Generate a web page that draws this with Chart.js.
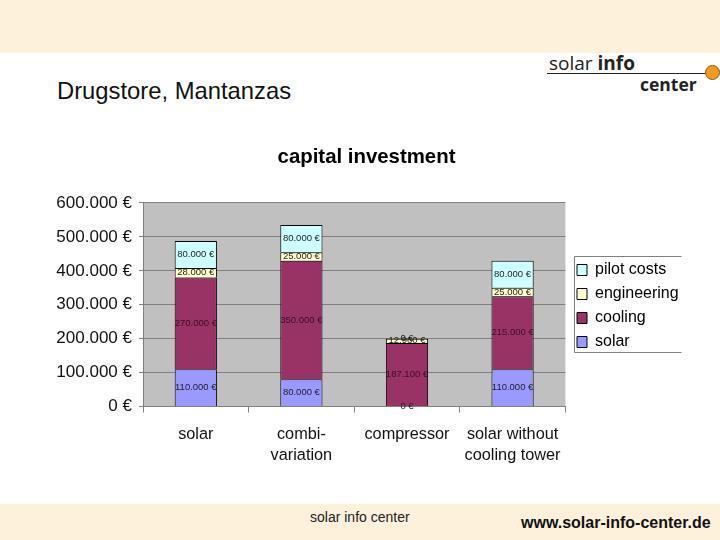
<!DOCTYPE html>
<html><head><meta charset="utf-8">
<script src="https://cdn.jsdelivr.net/npm/chart.js@4"></script>
<style>
html,body{margin:0;padding:0;background:#fff;width:720px;height:540px;overflow:hidden;font-family:"Liberation Sans",Arial,sans-serif}
.band{position:absolute;left:0;width:720px;background:#fdf1dc}
.t{position:absolute;white-space:nowrap;color:#000;line-height:1}
canvas{position:absolute;left:0;top:0}
</style></head><body>
<div class="band" style="top:0;height:53px"></div>
<div class="band" style="top:504px;height:36px"></div>
<div class="t" style="left:57px;top:79px;font-size:23.8px;color:#111">Drugstore, Mantanzas</div>
<div class="t" style="left:549px;top:50px;font:19px 'Open Sans',sans-serif;color:#222">solar <b>info</b></div>
<div style="position:absolute;left:547px;top:73px;width:160px;height:1px;background:#222"></div>
<div class="t" style="left:640px;top:72px;font:bold 17.5px 'Open Sans',sans-serif;color:#222">center</div>
<div style="position:absolute;left:705px;top:65px;width:13px;height:13px;border-radius:50%;background:#f39a1f;border:1px solid #8a5a10"></div>
<div class="t" style="left:310px;top:510px;font-size:14px;color:#222">solar info center</div>
<div class="t" style="left:521px;top:515px;font-size:16px;font-weight:bold;color:#111">www.solar-info-center.de</div>
<canvas id="c" width="720" height="540"></canvas>
<script>
const categories=["solar",["combi-","variation"],"compressor",["solar without","cooling tower"]];
const solar=[110000,80000,0,110000];
const cooling=[270000,350000,187100,215000];
const engineering=[28000,25000,12960,25000];
const pilotCosts=[80000,80000,0,80000];
const yTicks=[0,100000,200000,300000,400000,500000,600000];
const euro=v=>String(v).replace(/\B(?=(\d{3})+$)/g,".")+" €";
const frame={
  id:"frame",
  afterLayout(c){const l=c.legend;l.left=569;l.right=689;l.width=120;l.top=246;l.bottom=366;l.height=120;},
  beforeDraw(c){const a=c.chartArea,x=c.ctx;x.save();x.fillStyle="#c0c0c0";x.fillRect(a.left,a.top,a.width,a.height);
    x.strokeStyle="#808080";x.lineWidth=1;x.beginPath();x.moveTo(681.5,256.5);x.lineTo(574.5,256.5);x.lineTo(574.5,352.5);x.lineTo(681.5,352.5);x.stroke();x.restore();},
  afterDatasetsDraw(c){const x=c.ctx;x.save();x.font="9.5px 'Liberation Sans'";x.textAlign="center";x.textBaseline="middle";
    c.data.datasets.forEach((d,i)=>{c.getDatasetMeta(i).data.forEach((b,j)=>{x.fillStyle=i===1?"#3a0f22":"#222";x.fillText(euro(d.data[j]),b.x,(b.y+b.base)/2);});});x.restore();}
};
new Chart(document.getElementById("c"),{type:"bar",
 data:{labels:categories,datasets:[
  {label:"solar",data:solar,backgroundColor:"#9999ff"},
  {label:"cooling",data:cooling,backgroundColor:"#993366"},
  {label:"engineering",data:engineering,backgroundColor:"#ffffcc"},
  {label:"pilot costs",data:pilotCosts,backgroundColor:"#ccffff"}
 ].map(d=>({...d,borderColor:"#000",borderWidth:1,categoryPercentage:.4,barPercentage:1}))},
 options:{responsive:false,animation:false,
  layout:{padding:{left:48,top:0,right:35,bottom:0}},
  plugins:{
   title:{display:true,text:"capital investment",color:"#000",font:{family:"Liberation Sans",size:20.4,weight:"bold"},padding:{top:145,bottom:33.5}},
   legend:{position:"right",fullSize:false,reverse:true,
     labels:{color:"#000",font:{family:"Liberation Sans",size:16},boxWidth:10,boxHeight:11,padding:8}},
   tooltip:{enabled:false}},
  scales:{
   x:{stacked:true,grid:{drawOnChartArea:false,color:"#808080",tickLength:6,offset:true},border:{color:"#808080"},
      ticks:{color:"#111",font:{family:"Liberation Sans",size:16.3,lineHeight:1.3},maxRotation:0,autoSkip:false,padding:11},
      afterFit(s){s.height=133.5;}},
   y:{stacked:true,min:0,max:600000,afterBuildTicks(s){s.ticks=yTicks.map(v=>({value:v}));},
      grid:{color:"#808080",tickLength:4},border:{color:"#808080"},
      ticks:{color:"#111",font:{family:"Liberation Sans",size:17},padding:7,callback:euro},
      afterFit(s){s.width=95;}}
  }},
 plugins:[frame]});
</script>
</body></html>
